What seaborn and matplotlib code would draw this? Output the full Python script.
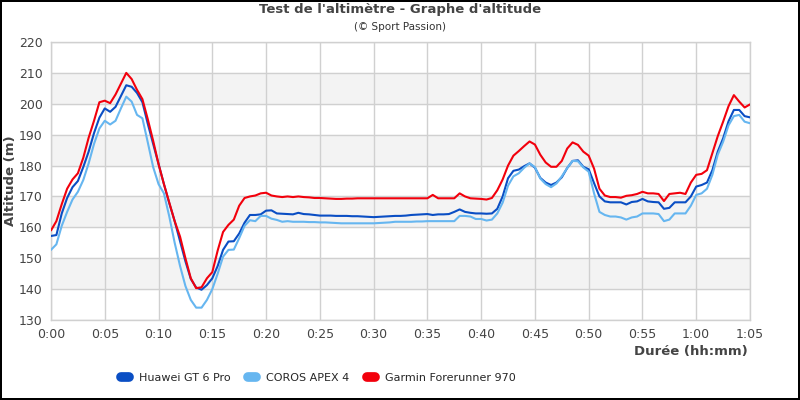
import numpy as np
import pandas as pd
import matplotlib
matplotlib.use("Agg")
import matplotlib.pyplot as plt
import seaborn as sns
from matplotlib.lines import Line2D

minutes = [i / 2 for i in range(131)]

huawei = [
    157.2, 157.5, 164.5, 169.5, 173.0, 175.0, 179.5, 184.5, 190.5, 195.5,
    198.5, 197.4, 199.0, 202.5, 206.0, 205.5, 203.5, 200.5, 193.5, 187.0,
    180.5, 174.0, 167.8, 162.0, 155.5, 149.0, 143.3, 140.5, 139.8, 141.3,
    143.5, 147.5, 152.7, 155.4, 155.5, 158.0, 161.5, 164.0, 164.0, 164.2,
    165.4, 165.5, 164.5, 164.4, 164.3, 164.2, 164.7, 164.3, 164.2, 164.0,
    163.8, 163.8, 163.8, 163.7, 163.7, 163.7, 163.6, 163.6, 163.5, 163.4,
    163.3, 163.4, 163.5, 163.6, 163.7, 163.7, 163.8, 164.0, 164.1, 164.2,
    164.3, 164.0, 164.2, 164.2, 164.3, 165.0, 165.8, 165.0, 164.7, 164.5,
    164.5, 164.4, 164.5, 166.0, 170.0, 175.9, 178.3, 178.7, 179.8, 180.7,
    179.3, 176.0, 174.5, 173.7, 174.5, 176.2, 179.2, 181.5, 181.7, 179.6,
    178.8, 174.3, 170.0, 168.4, 168.1, 168.1, 168.1, 167.4, 168.2, 168.4,
    169.2, 168.4, 168.2, 168.1, 166.0, 166.3, 168.1, 168.1, 168.1, 170.0,
    173.2, 173.7, 174.5, 178.5, 184.5, 188.8, 194.3, 198.0, 198.0, 196.0,
    195.6,
]

coros = [
    152.7, 154.5, 160.5, 165.0, 169.0, 171.5, 175.3, 180.7, 187.0, 192.0,
    194.5, 193.3, 194.5, 198.5, 202.3, 200.7, 196.4, 195.3, 187.5, 179.5,
    174.0, 171.0, 163.5, 155.0, 147.5, 141.0, 136.5, 134.0, 134.0, 136.5,
    140.0, 145.0, 150.5, 152.7, 152.8, 156.5, 160.5, 162.3, 162.0, 163.7,
    163.7, 162.8, 162.4, 161.8, 162.0, 161.8, 161.8, 161.8, 161.7, 161.7,
    161.6, 161.6, 161.5, 161.4, 161.3, 161.3, 161.3, 161.3, 161.3, 161.3,
    161.3, 161.4, 161.5, 161.6, 161.8, 161.8, 161.8, 161.8, 161.9, 161.9,
    162.0, 162.0, 162.0, 162.0, 162.0, 162.0, 163.7, 163.7, 163.5, 162.7,
    162.7, 162.2, 162.5, 164.5, 168.0, 173.5, 176.5, 177.5, 179.3, 180.7,
    179.5, 175.8, 174.0, 173.0, 174.2, 176.5, 179.2, 181.5, 181.4, 179.4,
    178.0, 171.0, 165.0, 164.0, 163.5, 163.5, 163.2, 162.5, 163.2, 163.5,
    164.5, 164.5, 164.5, 164.3, 162.0, 162.5, 164.5, 164.5, 164.5, 167.0,
    170.5, 171.0, 172.5, 177.0, 183.5, 187.7, 193.0, 196.0, 196.4, 194.2,
    193.7,
]

garmin = [
    159.0, 162.0, 167.5, 172.5, 175.5, 177.5, 182.5, 189.0, 194.5, 200.5,
    201.0, 200.2, 203.0, 206.5, 210.0, 208.0, 204.5, 201.5, 195.0, 188.0,
    180.5, 174.0, 168.0, 162.0, 157.0, 150.0, 143.5, 140.3, 140.6, 143.5,
    145.5, 152.5, 158.5, 160.8, 162.5, 167.0, 169.5, 170.0, 170.3, 171.0,
    171.2, 170.3, 170.0, 169.8, 170.0, 169.8, 170.0, 169.8, 169.7, 169.5,
    169.5, 169.4, 169.3, 169.2, 169.2, 169.3, 169.3, 169.4, 169.4, 169.4,
    169.4, 169.4, 169.4, 169.4, 169.4, 169.4, 169.4, 169.4, 169.4, 169.4,
    169.4, 170.5, 169.4, 169.4, 169.4, 169.4, 171.0, 170.0, 169.4, 169.3,
    169.2, 169.0, 169.5, 172.0, 175.5, 180.0, 183.2, 184.7, 186.3, 187.8,
    186.8, 183.5, 181.0, 179.6, 179.6, 181.5, 185.5, 187.5, 186.7, 184.5,
    183.2, 179.0, 172.5, 170.3, 169.8, 169.8, 169.6, 170.2, 170.4, 170.8,
    171.5, 171.0, 171.0, 170.8, 168.5, 170.8, 171.0, 171.2, 170.8, 174.5,
    177.0, 177.3, 178.5, 184.0, 189.5, 194.2, 199.2, 202.8, 200.7, 198.8,
    199.8,
]

devices = ["Huawei GT 6 Pro", "COROS APEX 4", "Garmin Forerunner 970"]
colors = ["#0a4ec4", "#66b6f0", "#f2000c"]
x_ticks = list(range(0, 66, 5))
x_labels = ["0:00", "0:05", "0:10", "0:15", "0:20", "0:25", "0:30",
            "0:35", "0:40", "0:45", "0:50", "0:55", "1:00", "1:05"]
y_ticks = list(range(130, 221, 10))

df = pd.DataFrame({
    "minute": minutes * 3,
    "altitude": huawei + coros + garmin,
    "device": [devices[0]] * len(minutes) + [devices[1]] * len(minutes)
              + [devices[2]] * len(minutes),
})

sns.set_style("white")
plt.rcParams["font.family"] = ["DejaVu Sans"]

fig = plt.figure(figsize=(8, 4), dpi=100, edgecolor="black", linewidth=1.5)
ax = fig.add_axes([0.06375, 0.2, 0.87375, 0.695])

# alternating bands
for lo in [140, 160, 180, 200]:
    ax.axhspan(lo, lo + 10, color="#f3f3f3", zorder=0)

sns.lineplot(data=df, x="minute", y="altitude", hue="device",
             palette=dict(zip(devices, colors)), linewidth=1.5,
             legend=False, ax=ax, zorder=3)

ax.set_xlim(0, 65)
ax.set_ylim(130, 220)
ax.set_xticks(x_ticks)
ax.set_xticklabels(x_labels)
ax.set_yticks(y_ticks)
ax.tick_params(length=0, labelsize=9, colors="#444444", pad=6)
ax.grid(True, color="#d0d0d0", linewidth=1)
ax.set_axisbelow(True)
for s in ax.spines.values():
    s.set_color("#d0d0d0")
    s.set_linewidth(1)

ax.set_xlabel("")
ax.set_ylabel("Altitude (m)", fontsize=9.5, fontweight="bold", color="#444444",
              va="center")
ax.yaxis.set_label_coords(-0.058, 0.5)
fig.text(0.935, 0.12, "Durée (hh:mm)", ha="right", va="center",
         fontsize=9.5, fontweight="bold", color="#444444")

fig.text(0.5, 0.975, "Test de l'altimètre - Graphe d'altitude", ha="center",
         va="center", fontsize=9.5, fontweight="bold", color="#444444")
fig.text(0.5, 0.932, "(© Sport Passion)", ha="center", va="center",
         fontsize=7.5, color="#333333")

handles = [Line2D([0], [0], color=c, linewidth=7, solid_capstyle="round")
           for c in colors]
fig.legend(handles, devices, loc="center", bbox_to_anchor=(0.398, 0.055),
           ncol=3, frameon=False, fontsize=8, handlelength=0.7,
           handletextpad=0.9, columnspacing=1.6)

fig.savefig("out.png", dpi=100, edgecolor=fig.get_edgecolor())
